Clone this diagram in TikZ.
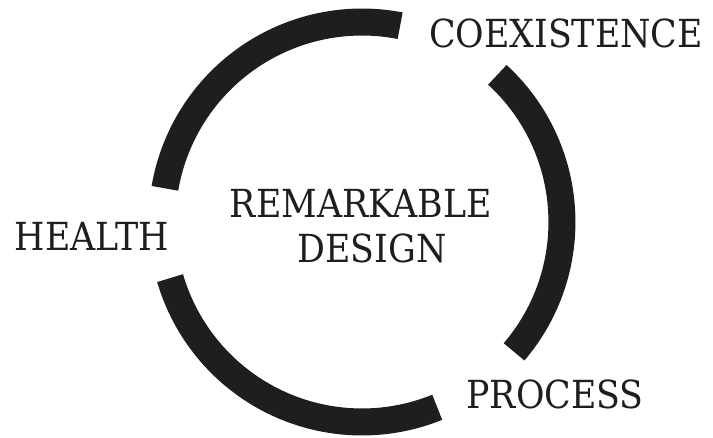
\documentclass[tikz,border=0pt]{standalone}
\usepackage{fontspec}
\setmainfont{DejaVu Serif Condensed}
\definecolor{ink}{HTML}{1E1E1C}

\begin{document}
\begin{tikzpicture}[x=0.02cm, y=0.02cm,
    ring/.style={draw=ink, line width=0.54cm},
    lbl/.style={text=ink, inner sep=0pt, font=\fontsize{22}{45}\selectfont}]
  \useasboundingbox (0,0) rectangle (713,437);
  %ring pieces
    \coordinate (c) at (362,215);
    \draw[ring] (c) ++(79:4cm) arc[start angle=79, end angle=170.3, radius=4cm];
    \draw[ring] (c) ++(47.4:4cm) arc[start angle=47.4, end angle=-40.5, radius=4cm];
    \draw[ring] (c) ++(-67.9:4cm) arc[start angle=-67.9, end angle=-163.7, radius=4cm];
  %labels
    \node[lbl, anchor=base] (coex) at (566,390) {COEXISTENCE};
    \node[lbl, anchor=base] (proc) at (555,29) {PROCESS};
    \node[lbl, anchor=base] (health) at (92,187) {HEALTH};
    \node[lbl, anchor=base] (remark) at (361,220) {REMARKABLE};
    \node[lbl, anchor=base] (design) at (372,175) {DESIGN};
\end{tikzpicture}
\end{document}
